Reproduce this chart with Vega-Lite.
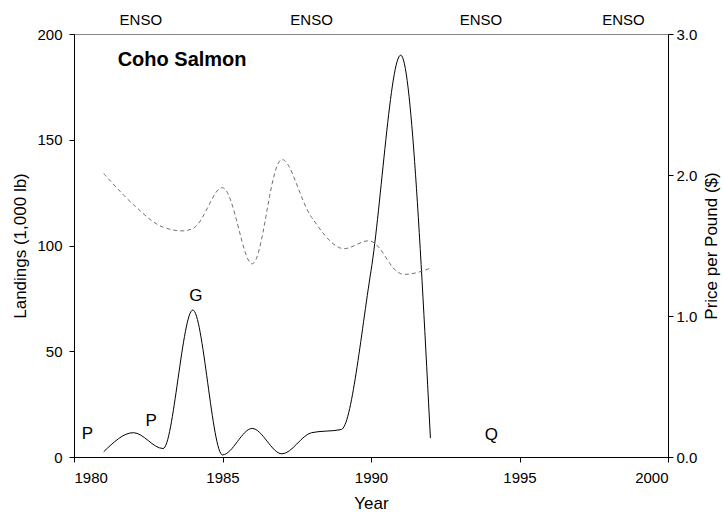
{
  "$schema": "https://vega.github.io/schema/vega-lite/v6.json",
  "width": 594,
  "height": 423,
  "autosize": "none",
  "padding": {"left": 74, "top": 34, "right": 55, "bottom": 56},
  "background": "white",
  "config": {
    "font": "Liberation Sans",
    "view": {"stroke": "#888888", "strokeWidth": 1},
    "axis": {"domainColor": "black", "tickColor": "black", "labelColor": "black", "titleColor": "black", "labelFontSize": 15, "titleFontSize": 17, "titleFontWeight": "normal", "grid": false, "tickSize": 5}
  },
  "datasets": {
    "landings": [
      {"year": 1981, "v": 2.5}, {"year": 1982, "v": 11.5}, {"year": 1983, "v": 4}, {"year": 1984, "v": 69.5},
      {"year": 1985, "v": 1}, {"year": 1986, "v": 13.5}, {"year": 1987, "v": 1.5}, {"year": 1988, "v": 11.5},
      {"year": 1989, "v": 13}, {"year": 1990, "v": 88}, {"year": 1991, "v": 190}, {"year": 1992, "v": 9}
    ],
    "price": [
      {"year": 1981, "p": 2.01}, {"year": 1982, "p": 1.79}, {"year": 1983, "p": 1.63}, {"year": 1984, "p": 1.62},
      {"year": 1985, "p": 1.91}, {"year": 1986, "p": 1.37}, {"year": 1987, "p": 2.11}, {"year": 1988, "p": 1.70},
      {"year": 1989, "p": 1.48}, {"year": 1990, "p": 1.53}, {"year": 1991, "p": 1.30}, {"year": 1992, "p": 1.34}
    ],
    "labels": [
      {"x": 1980.45, "y": 11, "t": "P"}, {"x": 1982.6, "y": 17, "t": "P"},
      {"x": 1984.1, "y": 76, "t": "G"}, {"x": 1994.05, "y": 10.5, "t": "Q"}
    ],
    "enso": [
      {"x": 1982.25, "y": 206.6, "t": "ENSO"}, {"x": 1988, "y": 206.6, "t": "ENSO"},
      {"x": 1993.7, "y": 206.6, "t": "ENSO"}, {"x": 1998.5, "y": 206.6, "t": "ENSO"}
    ],
    "title": [{"x": 1981.47, "y": 187.7, "t": "Coho Salmon"}]
  },
  "layer": [
    {
      "data": {"name": "landings"},
      "mark": {"type": "line", "interpolate": "monotone", "color": "black", "strokeWidth": 1},
      "encoding": {
        "x": {"field": "year", "type": "quantitative", "scale": {"domain": [1980, 2000], "nice": false},
              "axis": {"values": [1980, 1985, 1990, 1995, 2000], "format": "d", "title": "Year", "labelPadding": 8, "titlePadding": 10}},
        "y": {"field": "v", "type": "quantitative", "scale": {"domain": [0, 200], "nice": false},
              "axis": {"orient": "left", "values": [0, 50, 100, 150, 200], "title": "Landings (1,000 lb)", "labelPadding": 7, "titlePadding": 7}}
      }
    },
    {
      "data": {"name": "price"},
      "mark": {"type": "line", "interpolate": "catmull-rom", "color": "#707070", "strokeWidth": 1, "strokeDash": [4, 3]},
      "encoding": {
        "x": {"field": "year", "type": "quantitative", "scale": {"domain": [1980, 2000], "nice": false}},
        "y": {"field": "p", "type": "quantitative", "scale": {"domain": [0, 3], "nice": false},
              "axis": {"orient": "right", "values": [0, 1, 2, 3], "format": ".1f", "title": "Price per Pound ($)", "titleAngle": 270, "titleBaseline": "top", "labelPadding": 3, "titlePadding": 7}}
      }
    },
    {
      "data": {"name": "labels"},
      "mark": {"type": "text", "fontSize": 17, "color": "black"},
      "encoding": {
        "x": {"field": "x", "type": "quantitative", "scale": {"domain": [1980, 2000], "nice": false}},
        "y": {"field": "y", "type": "quantitative", "scale": {"domain": [0, 200], "nice": false}, "axis": null},
        "text": {"field": "t"}
      }
    },
    {
      "data": {"name": "enso"},
      "mark": {"type": "text", "fontSize": 15, "color": "black"},
      "encoding": {
        "x": {"field": "x", "type": "quantitative", "scale": {"domain": [1980, 2000], "nice": false}},
        "y": {"field": "y", "type": "quantitative", "scale": {"domain": [0, 200], "nice": false}, "axis": null},
        "text": {"field": "t"}
      }
    },
    {
      "data": {"name": "title"},
      "mark": {"type": "text", "fontSize": 20, "fontWeight": "bold", "align": "left", "color": "black"},
      "encoding": {
        "x": {"field": "x", "type": "quantitative", "scale": {"domain": [1980, 2000], "nice": false}},
        "y": {"field": "y", "type": "quantitative", "scale": {"domain": [0, 200], "nice": false}, "axis": null},
        "text": {"field": "t"}
      }
    }
  ],
  "resolve": {"scale": {"y": "independent"}}
}
